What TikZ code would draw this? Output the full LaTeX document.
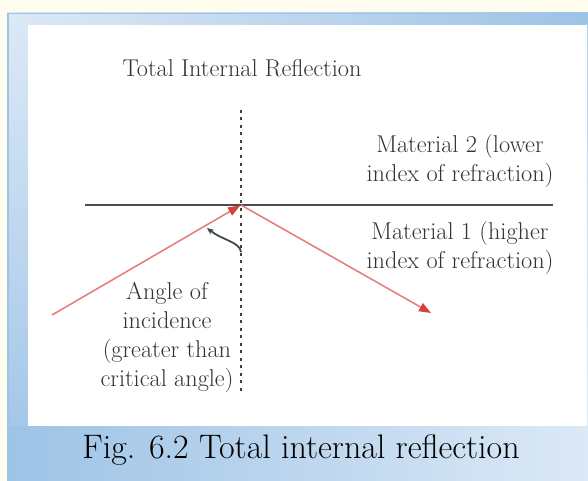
\documentclass[tikz,border=0pt]{standalone}
\usepackage{fontspec}
\usetikzlibrary{arrows.meta}
\definecolor{cream}{HTML}{FFFDF0}
\definecolor{bluelight}{HTML}{DCE9F6}
\definecolor{bluedark}{HTML}{9DC3E6}
\definecolor{txtgray}{HTML}{333333}
\definecolor{raycol}{HTML}{E8787A}
\definecolor{tipcol}{HTML}{D8403C}
\definecolor{hookcol}{HTML}{3C4A50}
\tikzset{
  lbl/.style={font=\fontsize{24.3}{29}\selectfont, text=txtgray, align=center, inner sep=0pt},
  ray/.style={draw=raycol, line width=1.5pt, -{Triangle[length=12pt,width=9pt,color=tipcol,fill=tipcol]}},
  surface/.style={draw=black!70, line width=2pt},
  normal/.style={draw=black!75, line width=1.8pt, dash pattern=on 3pt off 4.5pt},
  hook/.style={draw=hookcol, line width=1.8pt, -{Stealth[length=7pt,width=6pt]}}
}
\begin{document}
\begin{tikzpicture}[x=1pt,y=-1pt]
\useasboundingbox (0,0) rectangle (588,481);
% background and frame
\fill[cream] (0,0) rectangle (588,481);
\shade[top color=bluelight, bottom color=bluedark] (7,13) rectangle (28,481);
\shade[left color=bluelight, right color=bluedark] (7,13) rectangle (588,25);
\shade[left color=bluedark, right color=bluelight] (7,426) rectangle (588,481);
\shade[top color=bluedark!60!bluelight, bottom color=bluelight] (586.5,25) rectangle (588,426);
\draw[bluedark, line width=1.5pt] (7.75,481) -- (7.75,13.75) -- (588,13.75);
\fill[white] (28,25) rectangle (586.5,426);
% geometry
\coordinate (O) at (241,205);
\coordinate (A) at (52,315);
\coordinate (B) at (431,313);
\coordinate (L) at (85,205);
\coordinate (R) at (553,205);
\coordinate (T) at (241,110);
\coordinate (D) at (241,392);
\coordinate (H1) at (241,252);
\coordinate (H2) at (207,228);
\draw[surface] (L) -- (R);
\draw[normal] (T) -- (D);
\draw[ray, shorten >=1pt] (A) -- (O);
\draw[ray] (O) -- (B);
\draw[hook] (H1) .. controls (240,242) and (222,240) .. (H2);
% labels
\node[lbl] (title) at (242,68) {Total Internal Reflection};
\node[lbl] (mat2) at (460,161) {Material 2 (lower\\index of refraction)};
\node[lbl] (mat1) at (460,248) {Material 1 (higher\\index of refraction)};
\node[lbl] (angle) at (167,337) {Angle of\\incidence\\(greater than\\critical angle)};
\node[font=\fontsize{34}{40}\selectfont, text=black, inner sep=0pt] (cap) at (301,450) {Fig. 6.2 Total internal reflection};
\end{tikzpicture}
\end{document}
